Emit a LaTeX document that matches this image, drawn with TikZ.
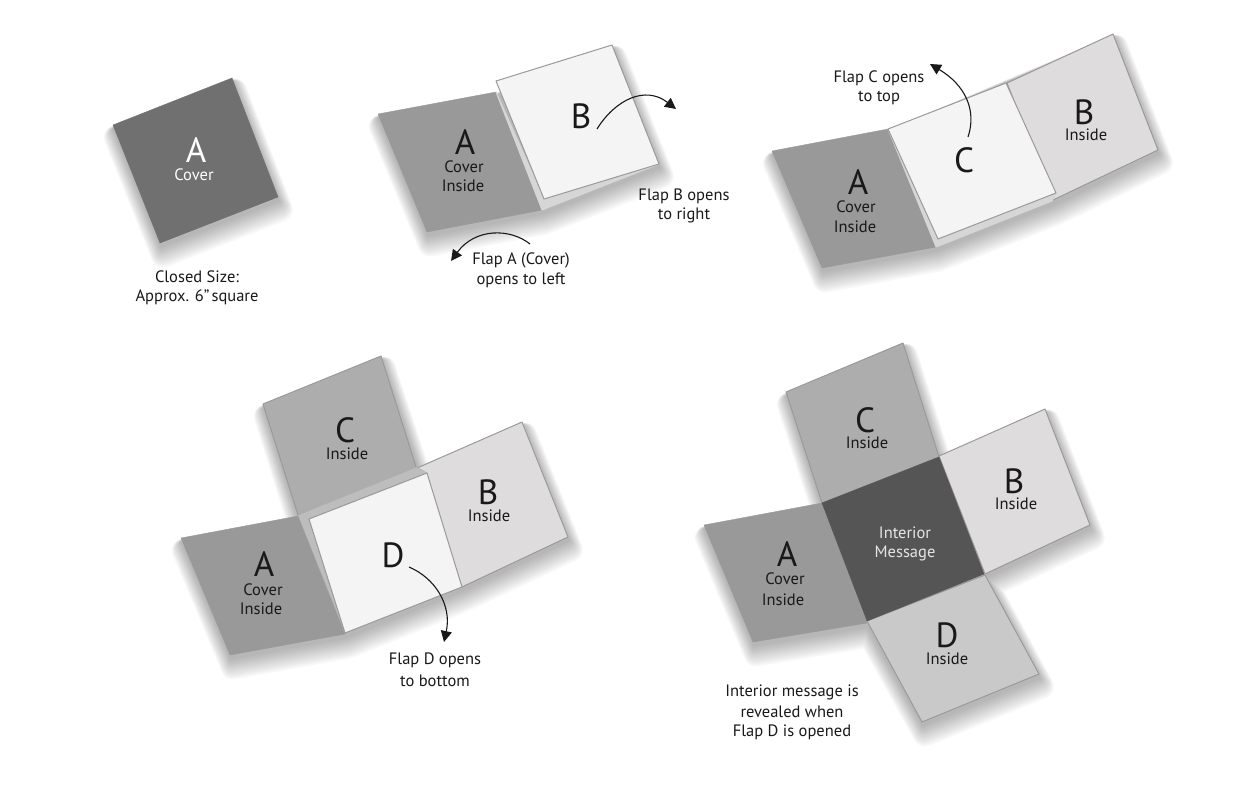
\documentclass[tikz,border=0pt]{standalone}
\usepackage{fontspec}
\setmainfont{PT Sans}
\usetikzlibrary{arrows.meta}
\definecolor{coverdark}{HTML}{707070}
\definecolor{coverin}{HTML}{999999}
\definecolor{flapline}{HTML}{9A9A9A}
\definecolor{pagewhite}{HTML}{F4F4F4}
\definecolor{underpage}{HTML}{D6D6D6}
\definecolor{flapb}{HTML}{DEDCDC}
\definecolor{flapc}{HTML}{ADADAD}
\definecolor{flapd}{HTML}{C9C9C9}
\definecolor{message}{HTML}{555555}
\tikzset{
    label/.style={font=\fontsize{16.5}{18}\selectfont, text=black!90, inner sep=0pt, yshift=-0.8pt},
    letter/.style={font=\fontsize{35}{38}\selectfont, text=black!90, inner sep=0pt},
    flap/.style={draw=flapline, line width=1pt, line join=round},
    flaparrow/.style={-{Triangle[length=11pt,width=11pt]}, line width=1.1pt, black!90},
}
% soft drop shadow under a panel outline
\newcommand{\panelshadow}[1]{
    \foreach \w in {24,22,...,2} {
        \begin{scope}[transparency group, opacity=0.027, shift={({0.5+0.1*\w},{3+0.4*\w})}]
            \filldraw[black, line width=\w pt, line join=round] #1 -- cycle;
        \end{scope}
    }
}

\begin{document}
\begin{tikzpicture}[x=1pt, y=-1pt]
    \useasboundingbox (0,0) rectangle (1257,789);

    % Closed card
    \panelshadow{(232,78) -- (113,125) -- (160,243) -- (278,197)}
    \filldraw[fill=coverdark, draw=coverdark] (232,78) -- (113,125) -- (160,243) -- (278,197) -- cycle;
    \node[letter, text=white] (closeda) at (196,150) {A};
    \node[label, text=white] (closedcover) at (194,174) {Cover};
    \node[label] (closedtxt) at (197,276) {Closed Size:};
    \node[label] (closedsize) at (197,296) {Approx. 6"\hspace{2pt}square};

    % Flap B on top
    \panelshadow{(378,114) -- (496,92) -- (612,45) -- (659,164) -- (542,210) -- (427,232)}
    \filldraw[fill=coverin, draw=coverin] (378,114) -- (496,92) -- (542,210) -- (427,232) -- cycle;
    \filldraw[flap, fill=underpage, draw=underpage] (496,92) -- (542,210) -- (659,164) -- (544,199) -- cycle;
    \filldraw[flap, fill=pagewhite] (496,81) -- (612,45) -- (659,164) -- (544,199) -- cycle;
    \node[letter] (aa) at (465,142) {A};
    \node[label] (acover) at (464,166) {Cover};
    \node[label] (ainside) at (463,185) {Inside};
    \node[letter] (bb) at (581,116) {B};
    \node[label] (bline1) at (684,196) {Flap B opens};
    \node[label] (bline2) at (684,215) {to right};
    \node[label] (aline1) at (521,260) {Flap A (Cover)};
    \node[label] (aline2) at (521,280) {opens to left};
    \coordinate (bfrom) at (597,129);
    \coordinate (bto) at (676,109);
    \coordinate (afrom) at (530,244);
    \coordinate (ato) at (451,261);
    \draw[flaparrow] (bfrom) .. controls (615,100) and (645,85) .. (bto);
    \draw[flaparrow] (afrom) .. controls (510,228) and (475,228) .. (ato);

    % Flap C on top
    \panelshadow{(772,151) -- (888,129) -- (1113,34) -- (1158,150) -- (1053,201) -- (936,247) -- (822,268)}
    \filldraw[fill=coverin, draw=coverin] (772,151) -- (888,129) -- (936,247) -- (822,268) -- cycle;
    \filldraw[flap, fill=flapb] (1007,83) -- (1113,34) -- (1158,150) -- (1053,200) -- cycle;
    \filldraw[flap, fill=underpage, draw=underpage] (888,129) -- (936,247) -- (1052,201) -- (1056,193) -- (938,239) -- cycle;
    \filldraw[flap, fill=pagewhite] (888,129) -- (1006,83) -- (1056,193) -- (938,239) -- cycle;
    \node[letter] (ca) at (858,182) {A};
    \node[label] (ccover) at (856,206) {Cover};
    \node[label] (cinside) at (855,226) {Inside};
    \node[letter] (cc) at (964,160) {C};
    \node[letter] (cb) at (1084,112) {B};
    \node[label] (cbinside) at (1086,134) {Inside};
    \node[label] (cline1) at (879,77) {Flap C opens};
    \node[label] (cline2) at (879,97) {to top};
    \coordinate (cfrom) at (968,137);
    \coordinate (cto) at (930,64);
    \draw[flaparrow] (cfrom) .. controls (977,110) and (965,85) .. (cto);

    % Flap D on top
    \panelshadow{(181,538) -- (298,516) -- (263,404) -- (381,356) -- (418,468) -- (522,422) -- (568,537) -- (462,587) -- (345,634) -- (230,655)}
    \filldraw[flap, fill=flapc] (263,404) -- (381,356) -- (418,473) -- (298,515) -- cycle;
    \filldraw[fill=coverin, draw=coverin] (181,538) -- (298,516) -- (345,634) -- (230,655) -- cycle;
    \filldraw[flap, fill=flapb] (417,468) -- (522,422) -- (568,537) -- (462,587) -- cycle;
    \filldraw[fill=flapc!80!white, draw=flapc] (298,515) -- (417,467) -- (427,473) -- (309,519) -- (345,633) -- cycle;
    \filldraw[flap, fill=pagewhite] (309,519) -- (427,473) -- (462,587) -- (345,633) -- cycle;
    \node[letter] (da) at (264,564) {A};
    \node[label] (dcover) at (263,589) {Cover};
    \node[label] (dinside) at (261,608) {Inside};
    \node[letter] (dc) at (345,430) {C};
    \node[label] (dcinside) at (347,453) {Inside};
    \node[letter] (db) at (488,492) {B};
    \node[label] (dbinside) at (489,515) {Inside};
    \node[letter] (dd) at (393,555) {D};
    \node[label] (dline1) at (435,660) {Flap D opens};
    \node[label] (dline2) at (435,680) {to bottom};
    \coordinate (dfrom) at (409,567);
    \coordinate (dto) at (444,642);
    \draw[flaparrow] (dfrom) .. controls (435,578) and (452,605) .. (dto);

    % All flaps open
    \panelshadow{(704,525) -- (822,503) -- (786,392) -- (903,343) -- (939,456) -- (1045,409) -- (1090,525) -- (985,574) -- (1039,674) -- (922,722) -- (867,623) -- (753,642)}
    \filldraw[flap, fill=flapc] (786,392) -- (903,343) -- (939,457) -- (822,503) -- cycle;
    \filldraw[flap, fill=flapb] (939,456) -- (1045,409) -- (1090,525) -- (985,574) -- cycle;
    \filldraw[fill=coverin, draw=coverin] (704,525) -- (822,503) -- (867,623) -- (753,642) -- cycle;
    \filldraw[flap, fill=flapd] (867,621) -- (985,575) -- (1039,674) -- (922,722) -- cycle;
    \filldraw[fill=message, draw=message] (822,503) -- (939,457) -- (984,574) -- (867,621) -- cycle;
    \node[letter] (ea) at (787,554) {A};
    \node[label] (ecover) at (785,578) {Cover};
    \node[label] (einside) at (783,599) {Inside};
    \node[letter] (ec) at (865,420) {C};
    \node[label] (ecinside) at (867,442) {Inside};
    \node[letter] (eb) at (1014,481) {B};
    \node[label] (ebinside) at (1016,503) {Inside};
    \node[letter] (ed) at (947,635) {D};
    \node[label] (edinside) at (947,658) {Inside};
    \node[label, text=white!90!black] (emsg1) at (905,532) {Interior};
    \node[label, text=white!90!black] (emsg2) at (905,553) {Message};
    \node[label] (eline1) at (792,692) {Interior message is};
    \node[label] (eline2) at (792,711) {revealed when};
    \node[label] (eline3) at (792,731) {Flap D is opened};
\end{tikzpicture}
\end{document}
